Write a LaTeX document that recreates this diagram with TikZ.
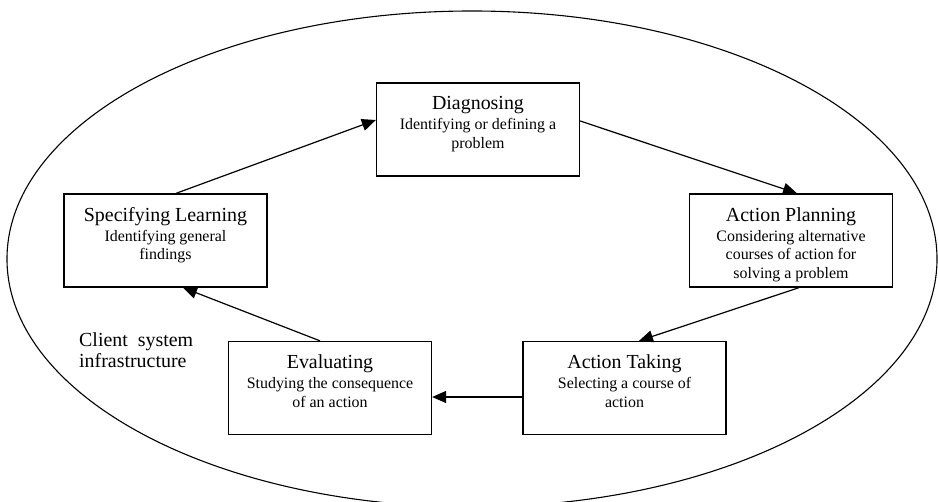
\documentclass[tikz,border=0pt]{standalone}
\usepackage{fontspec}
\setmainfont{Liberation Serif}
\usetikzlibrary{arrows.meta,positioning}

\newcommand\stagetitle{\fontsize{20}{22}\selectfont}
\newcommand\stagesub{\fontsize{16}{18.5}\selectfont}

\begin{document}
\begin{tikzpicture}[
	x=1bp, y=-1bp,
	stage/.style={ draw, line width=1.3bp, minimum width=203bp, minimum height=93bp, inner sep=0pt },
	stagetext/.style={ align=center, inner sep=0pt, font=\stagesub },
	client/.style={ anchor=north west, align=left, inner sep=0pt, font=\stagetitle },
	flow/.style={ -{Triangle[length=14bp,width=12bp]}, line width=1.2bp }
]

\useasboundingbox (0,0) rectangle (938,502);
\clip (0,0) rectangle (938,502);
\draw[line width=1.1bp] (472,259) ellipse [x radius=465bp, y radius=248bp];

\node[stage] at (478,129.5) (diag) {};
\node[stage] at (791,240.5) (plan) {};
\node[stage] at (624.5,388) (take) {};
\node[stage] at (330,388) (eval) {};
\node[stage] at (165.5,240.5) (spec) {};

\node[stagetext, below=14bp of diag.north] (diagtext) {{\stagetitle Diagnosing}\\[1.5pt] Identifying or defining a\\ problem};
\node[stagetext, below=14bp of plan.north] (plantext) {{\stagetitle Action Planning}\\[1.5pt] Considering alternative\\ courses of action for\\ solving a problem};
\node[stagetext, below=14bp of take.north] (taketext) {{\stagetitle Action Taking}\\[1.5pt] Selecting a course of\\ action};
\node[stagetext, below=14bp of eval.north] (evaltext) {{\stagetitle Evaluating}\\[1.5pt] Studying the consequence\\ of an action};
\node[stagetext, below=14bp of spec.north] (spectext) {{\stagetitle Specifying Learning}\\[1.5pt] Identifying general\\ findings};

\node[client] at (79,332) (infra) {Client~~system\\ infrastructure};

\draw[flow] ([xshift=10.5bp]spec.north) to ([yshift=9.5bp]diag.west);
\draw[flow] ([yshift=8.5bp]diag.east) to ([xshift=6bp]plan.north);
\draw[flow] ([xshift=8bp]plan.south) to ([xshift=14.5bp]take.north);
\draw[flow] ([yshift=-9bp]take.west) to ([yshift=-9bp]eval.east);
\draw[flow] ([xshift=-10bp]eval.north) to ([xshift=17.5bp]spec.south);

\end{tikzpicture}
\end{document}
